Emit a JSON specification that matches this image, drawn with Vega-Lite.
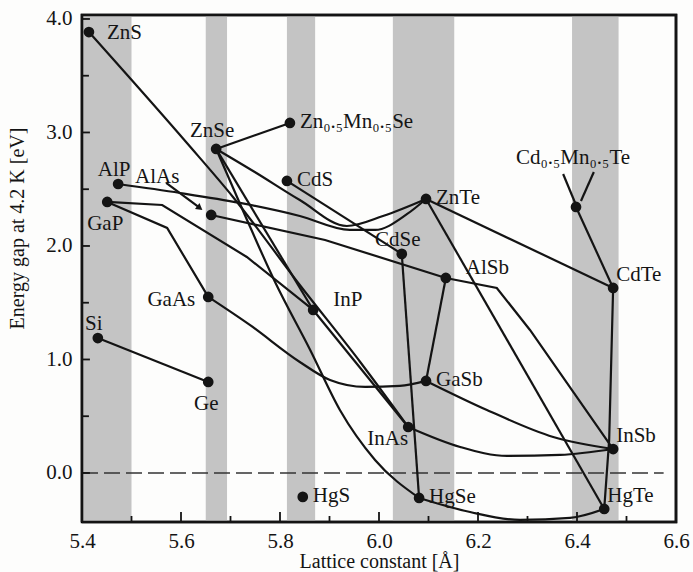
{
 "$schema": "https://vega.github.io/schema/vega-lite/v6.json",
 "width": 594, "height": 507, "autosize": "none",
 "padding": {"left": 82, "top": 15, "right": 17, "bottom": 50},
 "background": "#fdfdfc",
 "config": {"view": {"stroke": "black", "strokeWidth": 2.5}, "font": "Liberation Serif"},
 "datasets": {
  "bands": [{"x": 5.4, "x2": 5.5, "y": -0.432, "y2": 4.035}, {"x": 5.65, "x2": 5.693, "y": -0.432, "y2": 4.035}, {"x": 5.814, "x2": 5.871, "y": -0.432, "y2": 4.035}, {"x": 6.028, "x2": 6.152, "y": -0.432, "y2": 4.035}, {"x": 6.39, "x2": 6.484, "y": -0.432, "y2": 4.035}],
  "outline": [{"k": "box", "i": 0, "x": 5.4, "y": -0.432}, {"k": "box", "i": 1, "x": 6.6, "y": -0.432}, {"k": "box", "i": 2, "x": 6.6, "y": 4.035}, {"k": "box", "i": 3, "x": 5.4, "y": 4.035}, {"k": "box", "i": 4, "x": 5.4, "y": -0.432}],
  "tk": [
   {"k": "x55", "i": 0, "x": 5.5, "y": -0.432}, {"k": "x55", "i": 1, "x": 5.5, "y": -0.379},
   {"k": "x56", "i": 0, "x": 5.6, "y": -0.432}, {"k": "x56", "i": 1, "x": 5.6, "y": -0.344},
   {"k": "x57", "i": 0, "x": 5.7, "y": -0.432}, {"k": "x57", "i": 1, "x": 5.7, "y": -0.379},
   {"k": "x58", "i": 0, "x": 5.8, "y": -0.432}, {"k": "x58", "i": 1, "x": 5.8, "y": -0.344},
   {"k": "x59", "i": 0, "x": 5.9, "y": -0.432}, {"k": "x59", "i": 1, "x": 5.9, "y": -0.379},
   {"k": "x60", "i": 0, "x": 6.0, "y": -0.432}, {"k": "x60", "i": 1, "x": 6.0, "y": -0.344},
   {"k": "x61", "i": 0, "x": 6.1, "y": -0.432}, {"k": "x61", "i": 1, "x": 6.1, "y": -0.379},
   {"k": "x62", "i": 0, "x": 6.2, "y": -0.432}, {"k": "x62", "i": 1, "x": 6.2, "y": -0.344},
   {"k": "x63", "i": 0, "x": 6.3, "y": -0.432}, {"k": "x63", "i": 1, "x": 6.3, "y": -0.379},
   {"k": "x64", "i": 0, "x": 6.4, "y": -0.432}, {"k": "x64", "i": 1, "x": 6.4, "y": -0.344},
   {"k": "x65", "i": 0, "x": 6.5, "y": -0.432}, {"k": "x65", "i": 1, "x": 6.5, "y": -0.379},
   {"k": "y00", "i": 0, "x": 5.4, "y": 0}, {"k": "y00", "i": 1, "x": 5.416, "y": 0},
   {"k": "y05", "i": 0, "x": 5.4, "y": 0.5}, {"k": "y05", "i": 1, "x": 5.414, "y": 0.5},
   {"k": "y10", "i": 0, "x": 5.4, "y": 1}, {"k": "y10", "i": 1, "x": 5.416, "y": 1},
   {"k": "y15", "i": 0, "x": 5.4, "y": 1.5}, {"k": "y15", "i": 1, "x": 5.414, "y": 1.5},
   {"k": "y20", "i": 0, "x": 5.4, "y": 2}, {"k": "y20", "i": 1, "x": 5.416, "y": 2},
   {"k": "y25", "i": 0, "x": 5.4, "y": 2.5}, {"k": "y25", "i": 1, "x": 5.414, "y": 2.5},
   {"k": "y30", "i": 0, "x": 5.4, "y": 3}, {"k": "y30", "i": 1, "x": 5.416, "y": 3},
   {"k": "y35", "i": 0, "x": 5.4, "y": 3.5}, {"k": "y35", "i": 1, "x": 5.414, "y": 3.5},
   {"k": "y40", "i": 0, "x": 5.4, "y": 4}, {"k": "y40", "i": 1, "x": 5.416, "y": 4}
  ],
  "zero": [{"x": 5.4, "x2": 6.575, "y": 0}],
  "heads": [{"x": 5.638, "y": 2.335}],
  "pts": [
   {"name": "ZnS", "label": "ZnS", "x": 5.414, "y": 3.885},
   {"name": "ZnSe", "label": "ZnSe", "x": 5.671, "y": 2.855},
   {"name": "ZnMnSe", "label": "Zn₀.₅Mn₀.₅Se", "x": 5.82, "y": 3.084},
   {"name": "CdS", "label": "CdS", "x": 5.814, "y": 2.573},
   {"name": "AlP", "label": "AlP", "x": 5.473, "y": 2.546},
   {"name": "GaP", "label": "GaP", "x": 5.451, "y": 2.388},
   {"name": "AlAs", "label": "AlAs", "x": 5.661, "y": 2.273},
   {"name": "GaAs", "label": "GaAs", "x": 5.655, "y": 1.551},
   {"name": "Si", "label": "Si", "x": 5.432, "y": 1.189},
   {"name": "Ge", "label": "Ge", "x": 5.655, "y": 0.802},
   {"name": "InP", "label": "InP", "x": 5.867, "y": 1.436},
   {"name": "HgS", "label": "HgS", "x": 5.846, "y": -0.211},
   {"name": "ZnTe", "label": "ZnTe", "x": 6.095, "y": 2.414},
   {"name": "CdSe", "label": "CdSe", "x": 6.046, "y": 1.93},
   {"name": "AlSb", "label": "AlSb", "x": 6.135, "y": 1.718},
   {"name": "CdTe", "label": "CdTe", "x": 6.473, "y": 1.63},
   {"name": "CdMnTe", "label": "Cd₀.₅Mn₀.₅Te", "x": 6.398, "y": 2.344},
   {"name": "GaSb", "label": "GaSb", "x": 6.095, "y": 0.811},
   {"name": "InAs", "label": "InAs", "x": 6.059, "y": 0.405},
   {"name": "InSb", "label": "InSb", "x": 6.473, "y": 0.211},
   {"name": "HgSe", "label": "HgSe", "x": 6.081, "y": -0.22},
   {"name": "HgTe", "label": "HgTe", "x": 6.455, "y": -0.317}
  ],
  "lines": [
   {"id": "SiGe", "i": 0, "x": 5.432, "y": 1.189}, {"id": "SiGe", "i": 1, "x": 5.655, "y": 0.802},
   {"id": "ZnSeMn", "i": 0, "x": 5.671, "y": 2.855}, {"id": "ZnSeMn", "i": 1, "x": 5.82, "y": 3.084},
   {"id": "CdMnTe", "i": 0, "x": 6.398, "y": 2.344}, {"id": "CdMnTe", "i": 1, "x": 6.473, "y": 1.63},
   {"id": "ptr1", "i": 0, "x": 6.372, "y": 2.634}, {"id": "ptr1", "i": 1, "x": 6.398, "y": 2.361},
   {"id": "ptr2", "i": 0, "x": 6.434, "y": 2.652}, {"id": "ptr2", "i": 1, "x": 6.408, "y": 2.396},
   {"id": "AlAsArrow", "i": 0, "x": 5.57, "y": 2.555}, {"id": "AlAsArrow", "i": 1, "x": 5.638, "y": 2.335},
   {"id": "ZnSInAs", "i": 0, "x": 5.414, "y": 3.885}, {"id": "ZnSInAs", "i": 1, "x": 5.612, "y": 2.907}, {"id": "ZnSInAs", "i": 2, "x": 5.705, "y": 2.432}, {"id": "ZnSInAs", "i": 3, "x": 5.84, "y": 1.656}, {"id": "ZnSInAs", "i": 4, "x": 5.962, "y": 0.978}, {"id": "ZnSInAs", "i": 5, "x": 6.059, "y": 0.405},
   {"id": "ZnSeZnTe", "i": 0, "x": 5.671, "y": 2.855}, {"id": "ZnSeZnTe", "i": 1, "x": 5.749, "y": 2.652}, {"id": "ZnSeZnTe", "i": 2, "x": 5.84, "y": 2.405}, {"id": "ZnSeZnTe", "i": 3, "x": 5.935, "y": 2.176}, {"id": "ZnSeZnTe", "i": 4, "x": 6.008, "y": 2.264}, {"id": "ZnSeZnTe", "i": 5, "x": 6.095, "y": 2.414},
   {"id": "AlPZnTe", "i": 0, "x": 5.473, "y": 2.546}, {"id": "AlPZnTe", "i": 1, "x": 5.598, "y": 2.467}, {"id": "AlPZnTe", "i": 2, "x": 5.719, "y": 2.379}, {"id": "AlPZnTe", "i": 3, "x": 5.84, "y": 2.264}, {"id": "AlPZnTe", "i": 4, "x": 5.941, "y": 2.141}, {"id": "AlPZnTe", "i": 5, "x": 5.992, "y": 2.141}, {"id": "AlPZnTe", "i": 6, "x": 6.057, "y": 2.282}, {"id": "AlPZnTe", "i": 7, "x": 6.095, "y": 2.414},
   {"id": "CdSCdSe", "i": 0, "x": 5.814, "y": 2.573}, {"id": "CdSCdSe", "i": 1, "x": 6.046, "y": 1.93},
   {"id": "AlAsAlSb", "i": 0, "x": 5.661, "y": 2.273}, {"id": "AlAsAlSb", "i": 1, "x": 5.891, "y": 2.053}, {"id": "AlAsAlSb", "i": 2, "x": 6.135, "y": 1.718},
   {"id": "AlSbInSb", "i": 0, "x": 6.135, "y": 1.718}, {"id": "AlSbInSb", "i": 1, "x": 6.238, "y": 1.63}, {"id": "AlSbInSb", "i": 2, "x": 6.305, "y": 1.26}, {"id": "AlSbInSb", "i": 3, "x": 6.473, "y": 0.211},
   {"id": "GaPGaAs", "i": 0, "x": 5.451, "y": 2.388}, {"id": "GaPGaAs", "i": 1, "x": 5.572, "y": 2.159}, {"id": "GaPGaAs", "i": 2, "x": 5.655, "y": 1.551},
   {"id": "GaPInP", "i": 0, "x": 5.451, "y": 2.388}, {"id": "GaPInP", "i": 1, "x": 5.562, "y": 2.361}, {"id": "GaPInP", "i": 2, "x": 5.733, "y": 1.903}, {"id": "GaPInP", "i": 3, "x": 5.867, "y": 1.436},
   {"id": "GaAsGaSb", "i": 0, "x": 5.655, "y": 1.551}, {"id": "GaAsGaSb", "i": 1, "x": 5.739, "y": 1.304}, {"id": "GaAsGaSb", "i": 2, "x": 5.84, "y": 0.978}, {"id": "GaAsGaSb", "i": 3, "x": 5.901, "y": 0.819}, {"id": "GaAsGaSb", "i": 4, "x": 5.972, "y": 0.758}, {"id": "GaAsGaSb", "i": 5, "x": 6.042, "y": 0.767}, {"id": "GaAsGaSb", "i": 6, "x": 6.095, "y": 0.811},
   {"id": "ZnSeInP", "i": 0, "x": 5.671, "y": 2.855}, {"id": "ZnSeInP", "i": 1, "x": 5.867, "y": 1.436},
   {"id": "ZnSeHgSe", "i": 0, "x": 5.671, "y": 2.855}, {"id": "ZnSeHgSe", "i": 1, "x": 5.729, "y": 2.273}, {"id": "ZnSeHgSe", "i": 2, "x": 5.79, "y": 1.683}, {"id": "ZnSeHgSe", "i": 3, "x": 5.861, "y": 1.084}, {"id": "ZnSeHgSe", "i": 4, "x": 5.921, "y": 0.555}, {"id": "ZnSeHgSe", "i": 5, "x": 5.992, "y": 0.115}, {"id": "ZnSeHgSe", "i": 6, "x": 6.081, "y": -0.22},
   {"id": "InPInAs", "i": 0, "x": 5.867, "y": 1.436}, {"id": "InPInAs", "i": 1, "x": 6.059, "y": 0.405},
   {"id": "InAsInSb", "i": 0, "x": 6.059, "y": 0.405}, {"id": "InAsInSb", "i": 1, "x": 6.164, "y": 0.229}, {"id": "InAsInSb", "i": 2, "x": 6.259, "y": 0.15}, {"id": "InAsInSb", "i": 3, "x": 6.366, "y": 0.159}, {"id": "InAsInSb", "i": 4, "x": 6.473, "y": 0.211},
   {"id": "GaSbInSb", "i": 0, "x": 6.095, "y": 0.811}, {"id": "GaSbInSb", "i": 1, "x": 6.218, "y": 0.555}, {"id": "GaSbInSb", "i": 2, "x": 6.352, "y": 0.317}, {"id": "GaSbInSb", "i": 3, "x": 6.473, "y": 0.211},
   {"id": "AlSbGaSb", "i": 0, "x": 6.135, "y": 1.718}, {"id": "AlSbGaSb", "i": 1, "x": 6.095, "y": 0.811},
   {"id": "CdSeHgSe", "i": 0, "x": 6.046, "y": 1.93}, {"id": "CdSeHgSe", "i": 1, "x": 6.081, "y": -0.22},
   {"id": "HgSeHgTe", "i": 0, "x": 6.081, "y": -0.22}, {"id": "HgSeHgTe", "i": 1, "x": 6.184, "y": -0.344}, {"id": "HgSeHgTe", "i": 2, "x": 6.285, "y": -0.414}, {"id": "HgSeHgTe", "i": 3, "x": 6.386, "y": -0.396}, {"id": "HgSeHgTe", "i": 4, "x": 6.455, "y": -0.317},
   {"id": "ZnTeCdTe", "i": 0, "x": 6.095, "y": 2.414}, {"id": "ZnTeCdTe", "i": 1, "x": 6.473, "y": 1.63},
   {"id": "ZnTeHgTe", "i": 0, "x": 6.095, "y": 2.414}, {"id": "ZnTeHgTe", "i": 1, "x": 6.455, "y": -0.317},
   {"id": "CdTeHgTe", "i": 0, "x": 6.473, "y": 1.63}, {"id": "CdTeHgTe", "i": 1, "x": 6.465, "y": 0.291}, {"id": "CdTeHgTe", "i": 2, "x": 6.455, "y": -0.317}
  ]
 },
 "encoding": {
  "x": {"field": "x", "type": "quantitative", "scale": {"domain": [5.4, 6.6], "nice": false, "zero": false},
   "axis": {"values": [5.4, 5.6, 5.8, 6.0, 6.2, 6.4, 6.6], "format": ".1f",
    "ticks": false, "domain": false, "grid": false,
    "labelFont": "Liberation Serif", "labelFontSize": 21, "labelColor": "#141414", "labelPadding": 8, "labelFlush": false, "labelOverlap": false,
    "title": "Lattice constant [Å]", "titleFont": "Liberation Serif", "titleFontSize": 20, "titleFontWeight": "normal", "titleColor": "#141414", "titlePadding": 0}},
  "y": {"field": "y", "type": "quantitative", "scale": {"domain": [-0.432, 4.035], "nice": false, "zero": false},
   "axis": {"values": [0, 1, 2, 3, 4], "format": ".1f",
    "ticks": false, "domain": false, "grid": false,
    "labelFont": "Liberation Serif", "labelFontSize": 21, "labelColor": "#141414", "labelPadding": 10, "labelOverlap": false,
    "title": "Energy gap at 4.2 K [eV]", "titleFont": "Liberation Serif", "titleFontSize": 20, "titleFontWeight": "normal", "titleColor": "#141414",
    "titleX": -55, "titleY": 213}}
 },
 "layer": [
  {"data": {"name": "bands"}, "mark": {"type": "rect", "color": "#c4c4c4"},
   "encoding": {"x2": {"field": "x2"}, "y2": {"field": "y2"}}},
  {"data": {"name": "zero"}, "mark": {"type": "rule", "color": "#333333", "strokeWidth": 1.6, "strokeDash": [16, 6]},
   "encoding": {"x2": {"field": "x2"}}},
  {"data": {"name": "tk"}, "mark": {"type": "line", "color": "#141414", "strokeWidth": 1.8},
   "encoding": {"detail": {"field": "k"}, "order": {"field": "i", "type": "quantitative"}}},
  {"data": {"name": "lines"},
   "transform": [{"filter": {"field": "id", "oneOf": ["ZnSInAs", "ZnSeZnTe", "AlPZnTe", "GaAsGaSb", "ZnSeHgSe", "InAsInSb", "GaSbInSb", "HgSeHgTe"]}}],
   "mark": {"type": "line", "color": "#141414", "strokeWidth": 2.2, "interpolate": "monotone"},
   "encoding": {"detail": {"field": "id"}, "order": {"field": "i", "type": "quantitative"}}},
  {"data": {"name": "lines"},
   "transform": [{"filter": {"not": {"field": "id", "oneOf": ["ZnSInAs", "ZnSeZnTe", "AlPZnTe", "GaAsGaSb", "ZnSeHgSe", "InAsInSb", "GaSbInSb", "HgSeHgTe"]}}}],
   "mark": {"type": "line", "color": "#141414", "strokeWidth": 2.2},
   "encoding": {"detail": {"field": "id"}, "order": {"field": "i", "type": "quantitative"}}},
  {"data": {"name": "heads"}, "mark": {"type": "point", "shape": "triangle-right", "angle": 37, "size": 55, "filled": true, "color": "#141414", "opacity": 1}},
  {"data": {"name": "pts"}, "mark": {"type": "point", "shape": "circle", "size": 115, "filled": true, "color": "#141414", "opacity": 1}},
  {"data": {"name": "outline"}, "mark": {"type": "line", "color": "#141414", "strokeWidth": 2.6, "strokeJoin": "miter"},
   "encoding": {"detail": {"field": "k"}, "order": {"field": "i", "type": "quantitative"}}},
  {"data": {"name": "pts"}, "transform": [{"filter": {"field": "name", "oneOf": ["CdS", "ZnTe", "HgS", "ZnMnSe", "GaSb", "HgSe"]}}],
   "mark": {"type": "text", "align": "left", "baseline": "middle", "dx": 10, "dy": -1, "font": "Liberation Serif", "fontSize": 21, "color": "#141414"},
   "encoding": {"text": {"field": "label"}}},
  {"data": {"name": "pts"}, "transform": [{"filter": {"field": "name", "oneOf": ["InP", "AlSb"]}}],
   "mark": {"type": "text", "align": "left", "baseline": "middle", "dx": 20, "dy": -10, "font": "Liberation Serif", "fontSize": 21, "color": "#141414"},
   "encoding": {"text": {"field": "label"}}},
  {"data": {"name": "pts"}, "transform": [{"filter": {"field": "name", "oneOf": ["ZnS"]}}],
   "mark": {"type": "text", "align": "left", "baseline": "middle", "dx": 18, "dy": 1, "font": "Liberation Serif", "fontSize": 21, "color": "#141414"},
   "encoding": {"text": {"field": "label"}}},
  {"data": {"name": "pts"}, "transform": [{"filter": {"field": "name", "oneOf": ["CdTe", "InSb", "HgTe"]}}],
   "mark": {"type": "text", "align": "left", "baseline": "middle", "dx": 3, "dy": -13, "font": "Liberation Serif", "fontSize": 21, "color": "#141414"},
   "encoding": {"text": {"field": "label"}}},
  {"data": {"name": "pts"}, "transform": [{"filter": {"field": "name", "oneOf": ["CdSe", "AlP", "Si"]}}],
   "mark": {"type": "text", "align": "center", "baseline": "middle", "dx": -4, "dy": -14, "font": "Liberation Serif", "fontSize": 21, "color": "#141414"},
   "encoding": {"text": {"field": "label"}}},
  {"data": {"name": "pts"}, "transform": [{"filter": {"field": "name", "oneOf": ["ZnSe"]}}],
   "mark": {"type": "text", "align": "center", "baseline": "middle", "dx": -4, "dy": -18, "font": "Liberation Serif", "fontSize": 21, "color": "#141414"},
   "encoding": {"text": {"field": "label"}}},
  {"data": {"name": "pts"}, "transform": [{"filter": {"field": "name", "oneOf": ["CdMnTe"]}}],
   "mark": {"type": "text", "align": "center", "baseline": "middle", "dx": -3, "dy": -49, "font": "Liberation Serif", "fontSize": 21, "color": "#141414"},
   "encoding": {"text": {"field": "label"}}},
  {"data": {"name": "pts"}, "transform": [{"filter": {"field": "name", "oneOf": ["GaP", "Ge"]}}],
   "mark": {"type": "text", "align": "center", "baseline": "middle", "dx": -2, "dy": 22, "font": "Liberation Serif", "fontSize": 21, "color": "#141414"},
   "encoding": {"text": {"field": "label"}}},
  {"data": {"name": "pts"}, "transform": [{"filter": {"field": "name", "oneOf": ["GaAs"]}}],
   "mark": {"type": "text", "align": "right", "baseline": "middle", "dx": -13, "dy": 3, "font": "Liberation Serif", "fontSize": 21, "color": "#141414"},
   "encoding": {"text": {"field": "label"}}},
  {"data": {"name": "pts"}, "transform": [{"filter": {"field": "name", "oneOf": ["InAs"]}}],
   "mark": {"type": "text", "align": "right", "baseline": "middle", "dx": 0, "dy": 12, "font": "Liberation Serif", "fontSize": 21, "color": "#141414"},
   "encoding": {"text": {"field": "label"}}},
  {"data": {"name": "pts"}, "transform": [{"filter": {"field": "name", "oneOf": ["AlAs"]}}],
   "mark": {"type": "text", "align": "center", "baseline": "middle", "dx": -54, "dy": -38, "font": "Liberation Serif", "fontSize": 21, "color": "#141414"},
   "encoding": {"text": {"field": "label"}}}
 ]
}
